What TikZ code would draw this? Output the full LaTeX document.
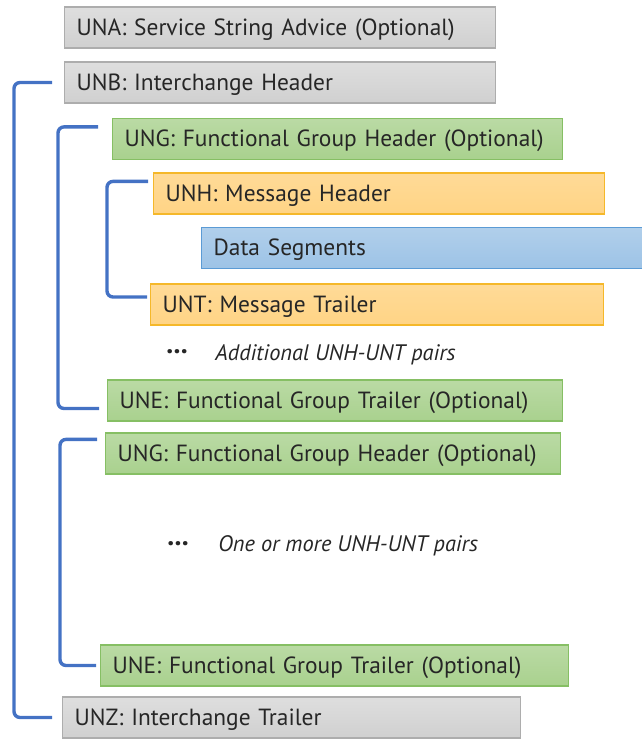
\documentclass[tikz,border=0pt]{standalone}
\usepackage{fontspec}
\setmainfont{PT Sans}
\definecolor{grayfill}{HTML}{D0D0D0}
\definecolor{grayline}{HTML}{ADADAD}
\definecolor{greenfill}{HTML}{A9D18E}
\definecolor{greenline}{HTML}{86BF64}
\definecolor{orangefill}{HTML}{FFD485}
\definecolor{orangeline}{HTML}{F5B82A}
\definecolor{bluefill}{HTML}{9DC3E6}
\definecolor{blueline}{HTML}{5B9BD5}
\definecolor{bracketblue}{HTML}{4472C4}
\definecolor{txt}{HTML}{262626}
\begin{document}
\begin{tikzpicture}[x=0.5pt,y=-0.5pt,font=\fontsize{11.7}{13}\selectfont,text=txt]
    \tikzset{seg/.style={draw, line width=0.6pt, anchor=west, minimum height=20.5pt, text height=9pt, text depth=1.5pt, inner xsep=6pt, align=left},
             grayseg/.style={seg, draw=grayline, top color=grayfill!70!white, bottom color=grayfill},
             greenseg/.style={seg, draw=greenline, top color=greenfill!80!white, bottom color=greenfill},
             orangeseg/.style={seg, draw=orangeline, top color=orangefill!85!white, bottom color=orangefill},
             blueseg/.style={seg, draw=blueline, top color=bluefill!80!white, bottom color=bluefill},
             bracket/.style={draw=bracketblue, line width=1.7pt, rounded corners=3pt},
             dots/.style={anchor=center, inner sep=0pt, font=\fontsize{14}{14}\selectfont\bfseries},
             note/.style={anchor=west, inner sep=0pt, font=\fontsize{11.2}{12}\selectfont\itshape}}
    \useasboundingbox (0,0) rectangle (642,739);
    \node[grayseg, text width=203.5pt] (una) at (64,27.5) {UNA: Service String Advice (Optional)};
    \node[grayseg, text width=203.5pt] (unb) at (64,82.5) {UNB: Interchange Header};
    \node[greenseg, text width=213pt] (ung1) at (112,139) {UNG: Functional Group Header (Optional)};
    \node[orangeseg, text width=213.5pt] (unh) at (153,193.5) {UNH: Message Header};
    \node[blueseg, text width=210pt] (data) at (201,248) {Data Segments};
    \node[orangeseg, text width=214.5pt] (unt) at (150,304.5) {UNT: Message Trailer};
    \node[dots] (dots1) at (177,352) {...};
    \node[note] (more1) at (215,355) {Additional UNH-UNT pairs};
    \node[greenseg, text width=215.5pt] (une1) at (107,400.5) {UNE: Functional Group Trailer (Optional)};
    \node[greenseg, text width=215.5pt] (ung2) at (105,453.5) {UNG: Functional Group Header (Optional)};
    \node[dots] (dots2) at (178,544) {...};
    \node[note] (more2) at (218,546) {One or more UNH-UNT pairs};
    \node[greenseg, text width=222pt] (une2) at (100,665.5) {UNE: Functional Group Trailer (Optional)};
    \node[grayseg, text width=217pt] (unz) at (62,717.5) {UNZ: Interchange Trailer};
    \draw[bracket] ([xshift=-6pt]unb.west) -- ++(-19pt,0) |- ([xshift=-5pt]unz.west);
    \draw[bracket] ([xshift=-7pt,yshift=-4.5pt]ung1.north west) -- ++(-20pt,0) |- ([xshift=-4pt,yshift=-4pt]une1.west);
    \draw[bracket] ([xshift=-2.5pt,yshift=-4.5pt]unh.north west) -- ++(-20.5pt,0) |- ([xshift=-1.5pt,yshift=3.75pt]unt.west);
    \draw[bracket] ([xshift=-4pt,yshift=-3.5pt]ung2.north west) -- ++(-18.5pt,0) |- ([xshift=-2pt]une2.west);
\end{tikzpicture}
\end{document}
